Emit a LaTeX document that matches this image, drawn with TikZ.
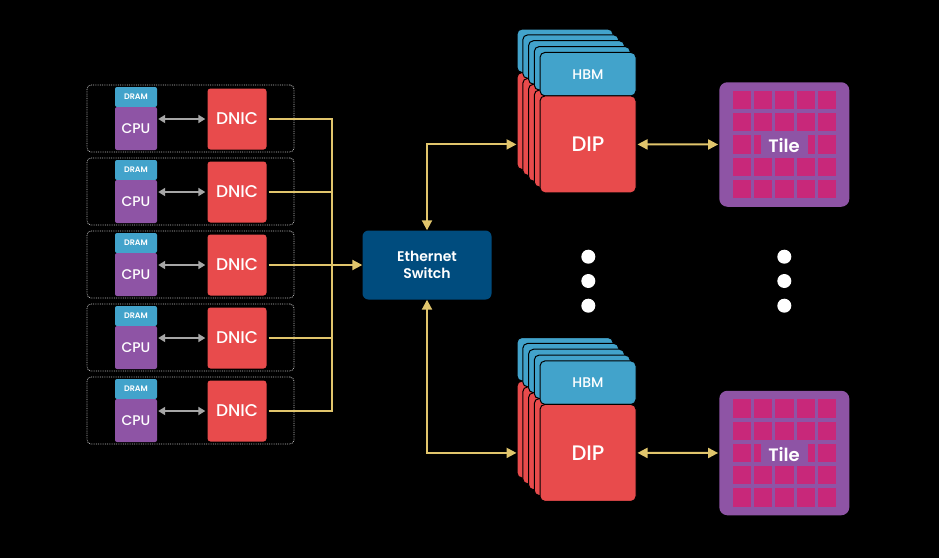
\documentclass[tikz,border=0pt]{standalone}
\usepackage{fontspec}
\setmainfont{Poppins Medium}[BoldFont={Poppins SemiBold}]
\usetikzlibrary{arrows.meta}

\definecolor{memblue}{RGB}{66,163,203}
\definecolor{chippurple}{RGB}{142,84,165}
\definecolor{chipred}{RGB}{232,75,76}
\definecolor{switchblue}{RGB}{0,76,126}
\definecolor{cellpink}{RGB}{200,40,122}
\definecolor{wireyellow}{RGB}{225,197,108}
\definecolor{wiregray}{RGB}{166,166,166}
\definecolor{boxgray}{RGB}{190,190,190}

\begin{document}
\begin{tikzpicture}[x=1pt,y=-1pt]
\tikzstyle{every node}+=[inner sep=0pt, text=white]
\tikzstyle{hostbox}=[draw=boxgray, densely dotted, line width=0.8pt, rounded corners=4pt, minimum width=207pt, minimum height=67pt]
\tikzstyle{dram}=[fill=memblue, rounded corners=2pt, minimum width=42pt, minimum height=20pt, font=\bfseries\fontsize{8}{8}\selectfont]
\tikzstyle{cpu}=[fill=chippurple, rounded corners=2pt, minimum width=42pt, minimum height=43pt, font=\fontsize{14}{14}\selectfont]
\tikzstyle{dnic}=[fill=chipred, rounded corners=3pt, minimum width=59pt, minimum height=61pt, font=\fontsize{17}{17}\selectfont]
\tikzstyle{switch}=[fill=switchblue, rounded corners=6pt, minimum width=129pt, minimum height=69pt, align=center, font=\bfseries\fontsize{14}{16.5}\selectfont]
\tikzstyle{hbm}=[fill=memblue, draw=black, line width=1pt, rounded corners=5pt, minimum width=96pt, minimum height=43.5pt, font=\fontsize{14}{14}\selectfont]
\tikzstyle{dip}=[fill=chipred, draw=black, line width=1pt, rounded corners=5pt, minimum width=96pt, minimum height=97pt, font=\fontsize{21}{21}\selectfont]
\tikzstyle{tile}=[fill=chippurple, rounded corners=8pt, minimum width=130pt, minimum height=124.5pt]
\tikzstyle{tilelabel}=[fill=chippurple, minimum width=47pt, minimum height=22pt, font=\bfseries\fontsize{18}{18}\selectfont]
\tikzstyle{cpulink}=[wiregray, line width=2pt, {Triangle[length=7pt,width=8pt]}-{Triangle[length=7pt,width=8pt]}, shorten <=1pt, shorten >=2pt]
\tikzstyle{link}=[wireyellow, line width=2pt]
\tikzstyle{tip}=[-{Triangle[length=10pt,width=10pt]}]
\tikzstyle{tips}=[{Triangle[length=10pt,width=10pt]}-{Triangle[length=10pt,width=10pt]}]

% background and margins
\fill[black] (0,0) rectangle (939,558);

% hosts
\coordinate (bus) at (332,265);
\foreach \i/\y in {1/85,2/158,3/231,4/304,5/377} {
  \node[hostbox] (host\i) at (190.5,\y+33.5) {};
  \node[dram] (dram\i) at (136,\y+12) {DRAM};
  \node[cpu] (cpu\i) at (136,\y+43.5) {CPU};
  \node[dnic] (dnic\i) at (237,\y+34) {DNIC};
  \draw[cpulink] (cpu\i.east |- dnic\i.west) -- (dnic\i.west);
  \draw[link, shorten <=2pt] (dnic\i.east) -| (bus);
}

% switch
\node[switch] (switch) at (427,265) {Ethernet\\Switch};
\draw[link, tip] (bus) -- (switch.west);

% DIP stacks
\foreach \k in {0,...,3} {
  \node[hbm] (hbma\k) at (565+5.75*\k,50.75+5.85*\k) {};
  \node[dip] (dipa\k) at (565+5.75*\k,121+5.85*\k) {};
  \node[hbm] (hbmb\k) at (565+5.75*\k,359.25+5.85*\k) {};
  \node[dip] (dipb\k) at (565+5.75*\k,429.5+5.85*\k) {};
}
\node[hbm] (hbma4) at (588,74.15) {HBM};
\node[dip] (dipa4) at (588,144.4) {DIP};
\node[hbm] (hbmb4) at (588,382.65) {HBM};
\node[dip] (dipb4) at (588,452.9) {DIP};

\draw[link, tips] (switch.north) |- (dipa0.west |- dipa4);
\draw[link, tips] (switch.south) |- (dipb0.west |- dipb4);

% tiles
\node[tile] (tilea) at (784.3,144.5) {};
\node[tile] (tileb) at (784.3,453) {};
\foreach \c in {0,...,4} {
  \foreach \r in {0,...,4} {
    \fill[cellpink] (775.35+\c*21.25-42.5,135.35+\r*22.3-44.6) rectangle ++(18.3,18.3);
    \fill[cellpink] (775.35+\c*21.25-42.5,443.85+\r*22.3-44.6) rectangle ++(18.3,18.3);
  }
}
\node[tilelabel] (tilelabela) at (784,146) {Tile};
\node[tilelabel] (tilelabelb) at (784,454.5) {Tile};

\draw[link, tips, shorten <=1pt, shorten >=1pt] (dipa4.east) -- (tilea.west);
\draw[link, tips, shorten <=1pt, shorten >=1pt] (dipb4.east) -- (tileb.west);

% dots
\foreach \x in {588.3,784.3} {
  \fill[white] (\x,256.7) circle (7);
  \fill[white] (\x,281) circle (7);
  \fill[white] (\x,305.7) circle (7);
}
\end{tikzpicture}
\end{document}
